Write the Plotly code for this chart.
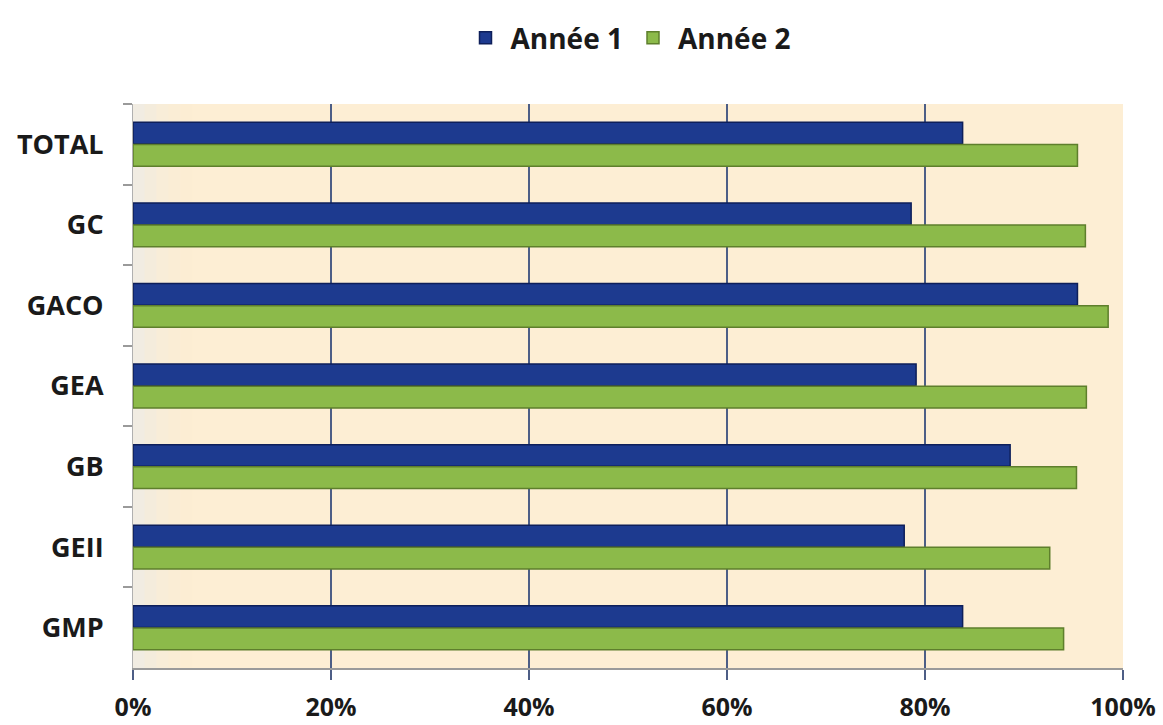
import plotly.graph_objects as go

categories = ["TOTAL", "GC", "GACO", "GEA", "GB", "GEII", "GMP"]
annee1 = [83.8, 78.6, 95.4, 79.1, 88.6, 77.9, 83.8]
annee2 = [95.4, 96.2, 98.5, 96.3, 95.3, 92.6, 94.0]
tick_vals = [0, 20, 40, 60, 80, 100]
tick_text = ["0%", "20%", "40%", "60%", "80%", "100%"]

font_family = "Open Sans, Lato, Liberation Sans, sans-serif"

fig = go.Figure()
fig.add_trace(go.Bar(
    y=categories, x=annee1, orientation="h", name="Année 1",
    marker=dict(color="#1D3A8F", line=dict(color="#0E1F5A", width=1.5)),
))
fig.add_trace(go.Bar(
    y=categories, x=annee2, orientation="h", name="Année 2",
    marker=dict(color="#8CBA4A", line=dict(color="#5E7F2C", width=1.5)),
))

# soft gradient on the left of the plot area
grad = ["#F1ECE2", "#F4ECDC", "#F8EDD8", "#FAEDD5", "#FCEDD3"]
for i, c in enumerate(grad):
    fig.add_shape(type="rect", xref="x", yref="paper", x0=i * 1.2, x1=(i + 1) * 1.2,
                  y0=0, y1=1, fillcolor=c, line=dict(width=0), layer="below")

fig.update_layout(
    width=1163, height=725,
    margin=dict(l=133, r=40, t=104, b=57),
    paper_bgcolor="white",
    plot_bgcolor="#FDEED4",
    barmode="group",
    bargap=0.45,
    bargroupgap=0.02,
    font=dict(family=font_family, size=25, color="#1a1a1a"),
    legend=dict(orientation="h", x=0.5, xanchor="center", y=0.982, yanchor="top",
                yref="container", font=dict(size=28, family=font_family, weight="bold"),
                traceorder="normal", itemwidth=40),
    showlegend=True,
)

fig.update_xaxes(
    range=[0, 100], tickvals=tick_vals, ticktext=tick_text,
    showgrid=True, gridcolor="#4D5E86", gridwidth=2,
    ticks="outside", ticklen=10, tickwidth=2, tickcolor="#4D5E86",
    showline=True, linecolor="#9A9A9A", linewidth=1.5,
    tickfont=dict(size=25, family=font_family, weight="bold"),
    ticklabelstandoff=6, ticklabeloverflow="allow",
    automargin=False,
    zeroline=False, fixedrange=True,
)
fig.update_yaxes(
    autorange="reversed",
    ticks="outside", tickson="boundaries", ticklen=9, tickcolor="#9A9A9A", tickwidth=1.5,
    showline=True, linecolor="#B0B0B0", linewidth=1,
    tickfont=dict(size=27, family=font_family, weight="bold"),
    ticklabelstandoff=23,
    automargin=False,
    showgrid=False,
)

fig.write_html("out.html", config={"displayModeBar": False},
               post_script="document.body.style.margin='0';")
